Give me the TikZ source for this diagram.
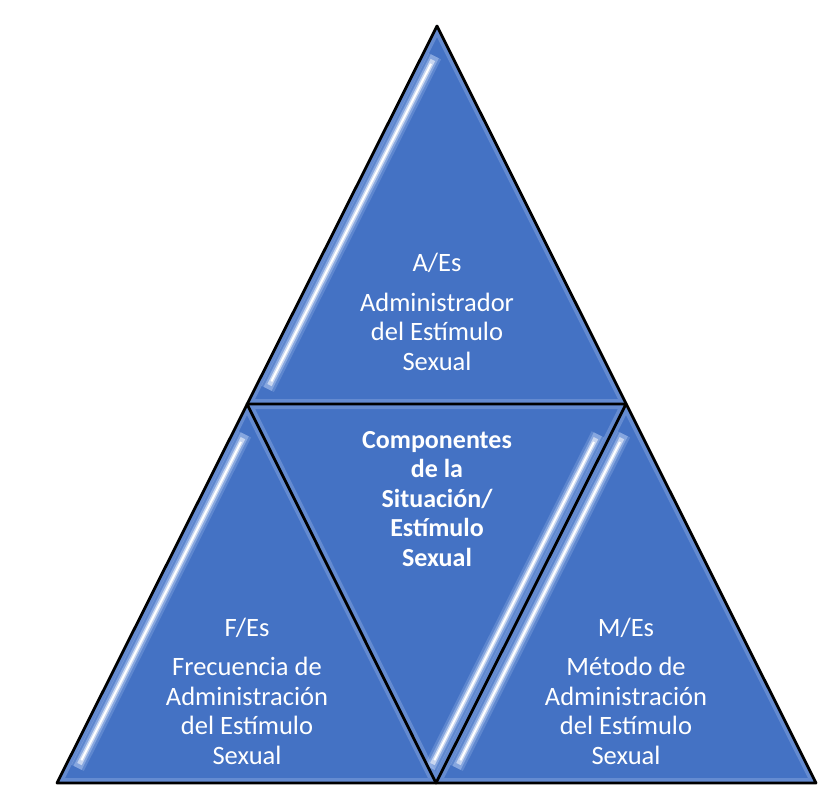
\documentclass[tikz,border=0pt]{standalone}
\usepackage{fontspec}
\setmainfont{Carlito}
\usetikzlibrary{calc}
\definecolor{triblue}{HTML}{4472C4}
\definecolor{shineblue}{HTML}{AEC6F0}

\begin{document}
\begin{tikzpicture}[
    x=1pt, y=-1pt,
    tri/.style={fill=triblue},
    rim/.style={draw=black, line width=2.8pt, line join=round},
    edgeglow/.style={draw=shineblue, line width=10pt, opacity=0.3},
    halo/.style={draw=shineblue, line width=14pt, opacity=0.25},
    glow/.style={draw=shineblue, line width=9pt, opacity=0.5},
    shine/.style={draw=white, line width=5pt, opacity=0.55},
    core/.style={draw=white, line width=2pt},
    lbl/.style={text=white, align=center, font=\fontsize{26.5}{29.5}\selectfont},
    hub/.style={lbl, font=\bfseries\fontsize{26}{29.5}\selectfont}
]
    \useasboundingbox (0,0) rectangle (830,804);

    % corners of the big triangle and midpoints of its sides
    \coordinate (top) at (437,26);
    \coordinate (bl) at (57,783);
    \coordinate (br) at (816,783);
    \coordinate (ml) at (247,404);
    \coordinate (mr) at (626,404);
    \coordinate (mb) at (436,783);

    % the four triangles with their bevel shine
    \foreach \p/\q/\r/\a/\b/\s in {top/ml/mr/top/ml/13, ml/bl/mb/ml/bl/13,
                                   mr/mb/br/mr/mb/13, ml/mr/mb/mr/mb/-13} {
        \fill[tri] (\p) -- (\q) -- (\r) -- cycle;
        \begin{scope}
            \clip (\p) -- (\q) -- (\r) -- cycle;
            \draw[edgeglow] (\p) -- (\q) -- (\r) -- cycle;
            \draw[halo] ($(\a)!0.08!(\b)+(\s,0)$) -- ($(\a)!0.96!(\b)+(\s,0)$);
            \draw[glow] ($(\a)!0.08!(\b)+(\s,0)$) -- ($(\a)!0.96!(\b)+(\s,0)$);
            \draw[shine] ($(\a)!0.09!(\b)+(\s,0)$) -- ($(\a)!0.95!(\b)+(\s,0)$);
            \draw[core] ($(\a)!0.10!(\b)+(\s,0)$) -- ($(\a)!0.94!(\b)+(\s,0)$);
        \end{scope}
    }

    % outlines
    \draw[rim] (top) -- (bl) -- (br) -- cycle;
    \draw[rim] (ml) -- (mr) -- (mb) -- cycle;

    % labels
    \node[lbl] (adm) at (437,312) {A/Es\\[10pt]Administrador\\del Estímulo\\Sexual};
    \node[hub] (comp) at (437,499) {Componentes\\de la\\Situación/\\Estímulo\\Sexual};
    \node[lbl] (frec) at (247,691) {F/Es\\[10pt]Frecuencia de\\Administración\\del Estímulo\\Sexual};
    \node[lbl] (met) at (626,691) {M/Es\\[10pt]Método de\\Administración\\del Estímulo\\Sexual};
\end{tikzpicture}
\end{document}
